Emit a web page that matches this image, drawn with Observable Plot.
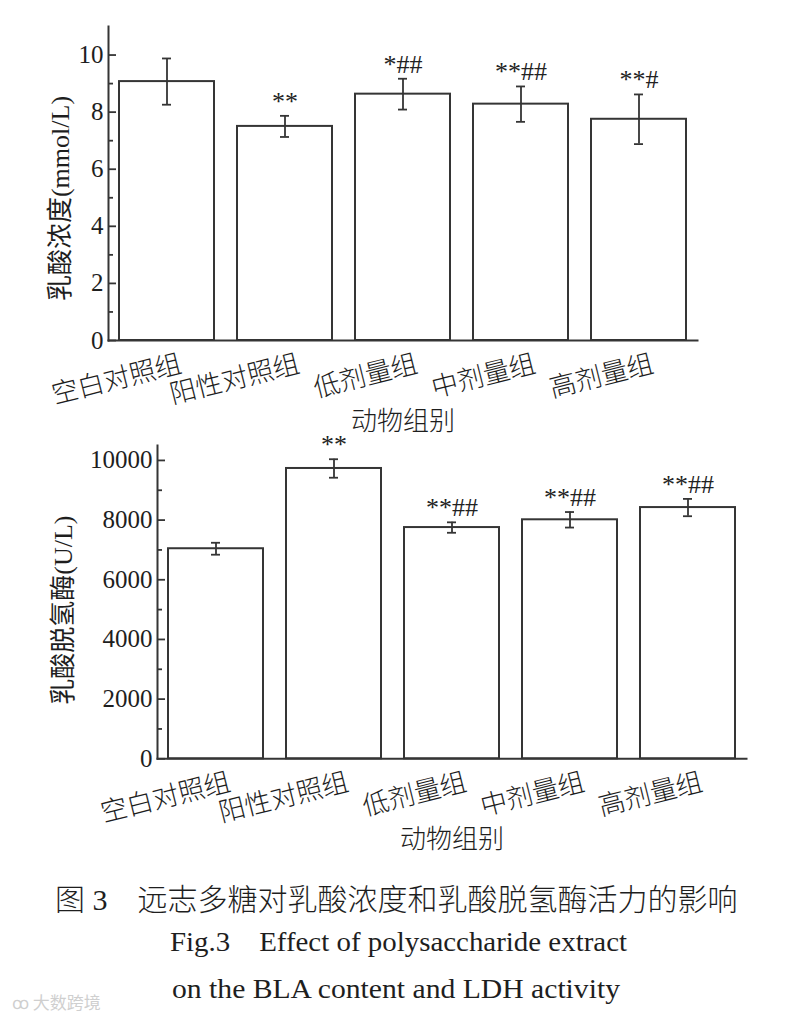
<!DOCTYPE html>
<html><head><meta charset="utf-8">
<script src="https://cdn.jsdelivr.net/npm/d3@7"></script>
<script src="https://cdn.jsdelivr.net/npm/@observablehq/plot@0.6"></script>
<style>
html,body{margin:0;padding:0;background:#fff;}
body{width:793px;height:1017px;position:relative;overflow:hidden;font-family:"Liberation Serif","Noto Sans CJK SC",serif;color:#1e1e1e;}
#c1{position:absolute;left:0;top:0;}
#c2{position:absolute;left:0;top:440px;}
.cap{position:absolute;white-space:nowrap;color:#1e1e1e;}
#cap1{left:55px;top:885px;font-size:30px;line-height:30px;font-weight:300;}
#cap2,#cap3{left:0;font-size:27px;line-height:27px;transform-origin:0 50%;}
#cap2{top:929px;}
#cap3{top:976px;}
#wm{position:absolute;left:12px;top:992px;font-size:17px;line-height:20px;color:#cfcfcf;font-family:"Noto Sans CJK SC",sans-serif;}
</style></head><body>
<div id="c1"></div><div id="c2"></div>
<div class="cap" id="cap1">图 3　远志多糖对乳酸浓度和乳酸脱氢酶活力的影响</div>
<div class="cap" id="cap2">Fig.3&nbsp;&nbsp;&nbsp;&nbsp;Effect of polysaccharide extract</div>
<div class="cap" id="cap3">on the BLA content and LDH activity</div>
<div id="wm">ꝏ 大数跨境</div>
<script>
const groups = ["空白对照组", "阳性对照组", "低剂量组", "中剂量组", "高剂量组"];
const blaMean = [9.07, 7.50, 8.63, 8.28, 7.75];
const blaSD = [0.81, 0.37, 0.54, 0.62, 0.87];
const blaSig = ["", "**", "*##", "**##", "**#"];
const blaTicks = [0, 2, 4, 6, 8, 10];
const blaMinor = [1, 3, 5, 7, 9];
const ldhMean = [7040, 9730, 7750, 8010, 8420];
const ldhSD = [200, 310, 175, 260, 290];
const ldhSig = ["", "**", "**##", "**##", "**##"];
const ldhTicks = [0, 2000, 4000, 6000, 8000, 10000];
const ldhMinor = [1000, 3000, 5000, 7000, 9000];
const xTitle = "动物组别";

const ink = "#353535";
function chart(o) {
  const data = groups.map((g, i) => ({g, m: o.mean[i], s: o.sd[i], sig: o.sig[i]}));
  const plotW = 793 - o.ML - o.MR;
  return Plot.plot({
    width: 793, height: o.H,
    marginLeft: o.ML, marginRight: o.MR, marginTop: o.MT, marginBottom: o.MB,
    style: {fontSize: "25px", fontFamily: "'Liberation Serif','Noto Sans CJK SC',serif", color: "#1e1e1e", background: "transparent", overflow: "visible"},
    x: {domain: groups, paddingInner: 0.195, paddingOuter: 0.093, axis: null},
    y: {domain: [0, o.yMax]},
    marks: [
      Plot.barY(data, {x: "g", y: "m", fill: "white", stroke: ink, strokeWidth: 2}),
      Plot.ruleX(data, {x: "g", y1: d => d.m - d.s, y2: d => d.m + d.s, stroke: ink, strokeWidth: 1.8}),
      Plot.tickY(data, {x: "g", y: d => d.m + d.s, insetLeft: 43, insetRight: 43, stroke: ink, strokeWidth: 1.8}),
      Plot.tickY(data, {x: "g", y: d => d.m - d.s, insetLeft: 43, insetRight: 43, stroke: ink, strokeWidth: 1.8}),
      Plot.text(data, {x: "g", y: d => d.m + d.s, text: "sig", dy: -6, lineAnchor: "bottom", fontSize: 26, fontFamily: "'Liberation Serif',serif", fill: "#222"}),
      Plot.tickY(o.ticks, {y: d => d, insetRight: plotW - 8, stroke: ink, strokeWidth: 1.8}),
      Plot.tickY(o.minor, {y: d => d, insetRight: plotW - 5, stroke: ink, strokeWidth: 1.8}),
      Plot.axisY({ticks: o.ticks, tickSize: 0, tickPadding: 5, label: null, fontSize: 25, tickFormat: d => String(d)}),
      Plot.frame({anchor: "left", stroke: ink, strokeWidth: 2}),
      Plot.frame({anchor: "bottom", stroke: ink, strokeWidth: 2}),
      Plot.text(groups, {x: d => d, frameAnchor: "bottom", rotate: -14, textAnchor: "end", lineAnchor: "middle", dx: 14, dy: 23, fontSize: 26.5, fontFamily: "'Noto Sans CJK SC',sans-serif", fontWeight: 300, fill: "#1e1e1e"}),
      Plot.text([o.yLabel], {frameAnchor: "left", rotate: -90, dx: o.ylDx, dy: o.ylDy, textAnchor: "middle", lineAnchor: "middle", fontSize: 26, fill: "#1e1e1e"}),
      Plot.text([xTitle], {frameAnchor: "bottom", dy: 81, lineAnchor: "middle", fontSize: 26, fontFamily: "'Noto Sans CJK SC',sans-serif", fontWeight: 300, fill: "#1e1e1e"})
    ]
  });
}

document.getElementById("c1").append(chart({
  mean: blaMean, sd: blaSD, sig: blaSig, ticks: blaTicks, minor: blaMinor, yMax: 11,
  ML: 108, MR: 96, MT: 26, H: 440, MB: 100, yLabel: "乳酸浓度(mmol/L)", ylDx: -48, ylDy: 15
}));
document.getElementById("c2").append(chart({
  mean: ldhMean, sd: ldhSD, sig: ldhSig, ticks: ldhTicks, minor: ldhMinor, yMax: 10500,
  ML: 157, MR: 47, MT: 5, H: 420, MB: 101.7, yLabel: "乳酸脱氢酶(U/L)", ylDx: -94, ylDy: 8
}));

// fit the condensed English caption lines to their measured spans in the reference
function fit(id, x0, x1) {
  const el = document.getElementById(id);
  const w = el.getBoundingClientRect().width;
  const s = (x1 - x0) / w;
  el.style.left = x0 + "px";
  el.style.transform = `scaleX(${s})`;
}
fit("cap2", 170, 627);
fit("cap3", 172, 620);
</script>
</body></html>
